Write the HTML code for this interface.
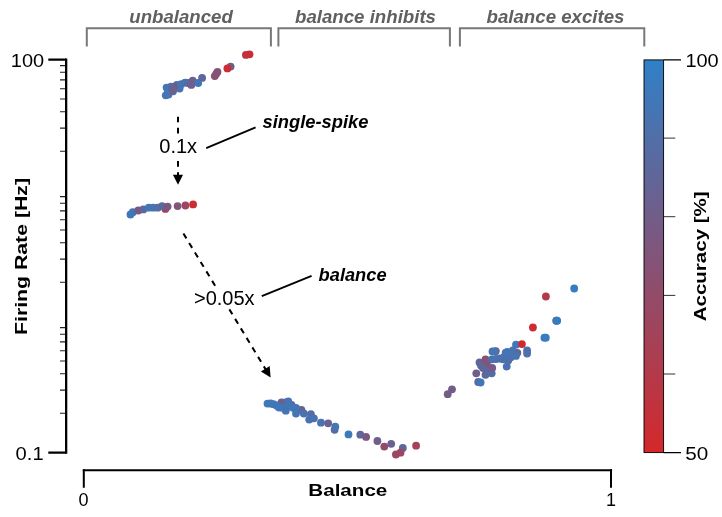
<!DOCTYPE html>
<html><head><meta charset="utf-8"><style>
html,body{margin:0;padding:0;background:#fff;}
body{width:722px;height:517px;overflow:hidden;}
svg{display:block;will-change:transform;}
text{font-family:"Liberation Sans",sans-serif;}
</style></head><body>
<svg width="722" height="517" viewBox="0 0 722 517">
<defs><linearGradient id="cb" x1="0" y1="0" x2="0" y2="1">
<stop offset="0" stop-color="#3080c8"/><stop offset="1" stop-color="#d4282a"/></linearGradient></defs>

<g fill="none" stroke="#787878" stroke-width="2" stroke-linejoin="miter">
<path d="M86.8 46.6V28.3H270.9V46.6"/>
<path d="M278.4 46.6V28.3H449.9V46.6"/>
<path d="M459.9 46.6V28.3H644.3V46.6"/>
</g>
<g fill="#606060" font-weight="bold" font-style="italic" font-size="18">
<text x="129.3" y="22.9" textLength="103.5" lengthAdjust="spacingAndGlyphs">unbalanced</text>
<text x="295" y="22.9" textLength="141" lengthAdjust="spacingAndGlyphs">balance inhibits</text>
<text x="486.5" y="22.9" textLength="138" lengthAdjust="spacingAndGlyphs">balance excites</text>
</g>
<g stroke="#000" fill="none">
<path d="M66.15 58.5V453.7" stroke-width="2.3"/>
<path d="M48.3 59.7H66M48.3 452.6H66" stroke-width="2.2"/>
<path d="M60 413.2H65M60 390.1H65M60 373.7H65M60 361.0H65M60 350.7H65M60 341.9H65M60 334.3H65M60 327.6H65M60 282.2H65M60 259.1H65M60 242.7H65M60 230.0H65M60 219.7H65M60 210.9H65M60 203.3H65M60 196.6H65M60 151.2H65M60 128.1H65M60 111.7H65M60 99.0H65M60 88.7H65M60 79.9H65M60 72.3H65M60 65.6H65" stroke-width="1.1" stroke="#222"/>
<path d="M82.8 470.2H612.1" stroke-width="2"/>
<path d="M83.8 469.2V487.7M611 469.2V487.7" stroke-width="2"/>
</g>
<g fill="#000" font-size="18">
<text x="10.8" y="66.6" textLength="33.3" lengthAdjust="spacingAndGlyphs">100</text>
<text x="15.6" y="459.5" textLength="28" lengthAdjust="spacingAndGlyphs">0.1</text>
<text x="78.5" y="505.6">0</text>
<text x="606" y="505.6">1</text>
<text x="685.4" y="66.5" textLength="33.3" lengthAdjust="spacingAndGlyphs">100</text>
<text x="685.3" y="459.5" textLength="23" lengthAdjust="spacingAndGlyphs">50</text>
</g>
<g fill="#000" font-size="17" font-weight="bold">
<text x="308.3" y="495.6" textLength="79" lengthAdjust="spacingAndGlyphs">Balance</text>
<text transform="translate(27.2,335) rotate(-90)" x="0" y="0" textLength="157" lengthAdjust="spacingAndGlyphs">Firing Rate [Hz]</text>
<text transform="translate(706.2,321.3) rotate(-90)" x="0" y="0" textLength="130" lengthAdjust="spacingAndGlyphs">Accuracy [%]</text>
</g>
<rect x="644" y="59.9" width="19.6" height="392.7" fill="url(#cb)" stroke="#000" stroke-width="0.9"/>
<path d="M663.8 59.9H681M663.8 452.6H681" stroke="#000" stroke-width="1.1"/>
<path d="M663.8 138.1H675.3M663.8 216.7H675.3M663.8 295.4H675.3M663.8 374.0H675.3" stroke="#333" stroke-width="1"/>
<g>
<circle cx="165.8" cy="95.3" r="3.9" fill="#4475b5"/>
<circle cx="168.5" cy="94.6" r="3.9" fill="#4475b5"/>
<circle cx="166.6" cy="87.6" r="3.9" fill="#4077b8"/>
<circle cx="168.0" cy="91.5" r="3.9" fill="#4475b5"/>
<circle cx="176.8" cy="84.8" r="3.9" fill="#4973b0"/>
<circle cx="179.6" cy="88.6" r="3.9" fill="#4475b5"/>
<circle cx="173.6" cy="86.9" r="3.9" fill="#8a5071"/>
<circle cx="171.0" cy="86.7" r="3.9" fill="#4973b0"/>
<circle cx="172.1" cy="88.5" r="3.9" fill="#686292"/>
<circle cx="173.0" cy="91.3" r="3.9" fill="#686292"/>
<circle cx="181.2" cy="84.2" r="3.9" fill="#4475b5"/>
<circle cx="185.1" cy="82.6" r="3.9" fill="#4973b0"/>
<circle cx="188.0" cy="83.0" r="3.9" fill="#516ea8"/>
<circle cx="192.7" cy="80.6" r="3.9" fill="#6e5f8c"/>
<circle cx="191.3" cy="84.9" r="3.9" fill="#6e5f8c"/>
<circle cx="198.2" cy="83.0" r="3.9" fill="#4077b8"/>
<circle cx="202.1" cy="77.9" r="3.9" fill="#5e679c"/>
<circle cx="214.8" cy="76.1" r="3.9" fill="#8a5071"/>
<circle cx="216.2" cy="73.8" r="3.9" fill="#8a5071"/>
<circle cx="217.5" cy="72.0" r="3.9" fill="#825479"/>
<circle cx="230.6" cy="66.6" r="3.9" fill="#725d89"/>
<circle cx="227.4" cy="68.4" r="3.9" fill="#cc2c32"/>
<circle cx="245.9" cy="54.9" r="3.9" fill="#c0333d"/>
<circle cx="249.5" cy="54.3" r="3.9" fill="#c72f37"/>
<circle cx="130.5" cy="214.5" r="3.9" fill="#3d79bb"/>
<circle cx="132.8" cy="212.2" r="3.9" fill="#4077b8"/>
<circle cx="138.3" cy="210.5" r="3.9" fill="#7a5881"/>
<circle cx="143.3" cy="209.4" r="3.9" fill="#5e679c"/>
<circle cx="148.8" cy="207.7" r="3.9" fill="#4475b5"/>
<circle cx="153.2" cy="207.7" r="3.9" fill="#4475b5"/>
<circle cx="157.7" cy="207.7" r="3.9" fill="#546da5"/>
<circle cx="165.4" cy="208.9" r="3.9" fill="#a34259"/>
<circle cx="162.1" cy="206.1" r="3.9" fill="#596aa0"/>
<circle cx="167.6" cy="206.6" r="3.9" fill="#7a5881"/>
<circle cx="177.6" cy="206.1" r="3.9" fill="#825479"/>
<circle cx="185.4" cy="205.5" r="3.9" fill="#9b4761"/>
<circle cx="193.1" cy="204.4" r="3.9" fill="#cc2c32"/>
<circle cx="281.5" cy="402.3" r="3.9" fill="#6e5f8c"/>
<circle cx="285.5" cy="402.3" r="3.9" fill="#6e5f8c"/>
<circle cx="291.5" cy="404.8" r="3.9" fill="#6e5f8c"/>
<circle cx="301.4" cy="409.8" r="3.9" fill="#6e5f8c"/>
<circle cx="267.5" cy="403.6" r="3.9" fill="#4077b8"/>
<circle cx="270.5" cy="403.5" r="3.9" fill="#4077b8"/>
<circle cx="273.5" cy="404.2" r="3.9" fill="#4077b8"/>
<circle cx="276.5" cy="405.5" r="3.9" fill="#4077b8"/>
<circle cx="279.0" cy="407.5" r="3.9" fill="#4077b8"/>
<circle cx="282.5" cy="407.8" r="3.9" fill="#4077b8"/>
<circle cx="288.3" cy="401.3" r="3.9" fill="#4475b5"/>
<circle cx="285.8" cy="410.7" r="3.9" fill="#4475b5"/>
<circle cx="289.5" cy="406.5" r="3.9" fill="#4077b8"/>
<circle cx="293.5" cy="408.0" r="3.9" fill="#4077b8"/>
<circle cx="296.0" cy="408.0" r="3.9" fill="#4077b8"/>
<circle cx="296.0" cy="413.5" r="3.9" fill="#4475b5"/>
<circle cx="303.8" cy="413.5" r="3.9" fill="#4973b0"/>
<circle cx="310.9" cy="414.2" r="3.9" fill="#546da5"/>
<circle cx="309.2" cy="419.6" r="3.9" fill="#4973b0"/>
<circle cx="313.9" cy="418.3" r="3.9" fill="#4973b0"/>
<circle cx="321.0" cy="422.7" r="3.9" fill="#4973b0"/>
<circle cx="328.2" cy="423.3" r="3.9" fill="#696191"/>
<circle cx="334.6" cy="429.8" r="3.9" fill="#596aa0"/>
<circle cx="335.3" cy="426.7" r="3.9" fill="#4475b5"/>
<circle cx="348.5" cy="434.4" r="3.9" fill="#3d79bb"/>
<circle cx="360.3" cy="434.7" r="3.9" fill="#5e679c"/>
<circle cx="366.1" cy="436.9" r="3.9" fill="#7a5881"/>
<circle cx="377.4" cy="441.0" r="3.9" fill="#6e5f8c"/>
<circle cx="384.3" cy="446.6" r="3.9" fill="#924b69"/>
<circle cx="391.2" cy="443.8" r="3.9" fill="#696191"/>
<circle cx="402.8" cy="448.0" r="3.9" fill="#5e679c"/>
<circle cx="400.5" cy="452.7" r="3.9" fill="#9b4761"/>
<circle cx="395.9" cy="454.5" r="3.9" fill="#9b4761"/>
<circle cx="416.1" cy="445.7" r="3.9" fill="#a34259"/>
<circle cx="447.7" cy="394.2" r="3.9" fill="#725d89"/>
<circle cx="452.0" cy="389.3" r="3.9" fill="#725d89"/>
<circle cx="478.2" cy="382.0" r="3.9" fill="#5e679c"/>
<circle cx="480.6" cy="382.5" r="3.9" fill="#4077b8"/>
<circle cx="476.3" cy="373.3" r="3.9" fill="#6e5f8c"/>
<circle cx="485.5" cy="374.8" r="3.9" fill="#5e679c"/>
<circle cx="491.7" cy="373.3" r="3.9" fill="#516ea8"/>
<circle cx="486.4" cy="369.0" r="3.9" fill="#5e679c"/>
<circle cx="492.2" cy="368.0" r="3.9" fill="#725d89"/>
<circle cx="479.5" cy="362.5" r="3.9" fill="#5e679c"/>
<circle cx="481.0" cy="365.5" r="3.9" fill="#5e679c"/>
<circle cx="485.5" cy="359.5" r="3.9" fill="#8a5071"/>
<circle cx="487.0" cy="363.0" r="3.9" fill="#825479"/>
<circle cx="483.0" cy="368.0" r="3.9" fill="#616699"/>
<circle cx="495.8" cy="351.1" r="3.9" fill="#a34259"/>
<circle cx="492.5" cy="351.5" r="3.9" fill="#4475b5"/>
<circle cx="495.0" cy="351.3" r="3.9" fill="#4475b5"/>
<circle cx="492.0" cy="359.3" r="3.9" fill="#4973b0"/>
<circle cx="496.0" cy="359.0" r="3.9" fill="#4973b0"/>
<circle cx="499.5" cy="358.5" r="3.9" fill="#4973b0"/>
<circle cx="502.9" cy="359.3" r="3.9" fill="#4e70ac"/>
<circle cx="507.4" cy="352.0" r="3.9" fill="#4475b5"/>
<circle cx="512.8" cy="350.5" r="3.9" fill="#4475b5"/>
<circle cx="517.4" cy="352.8" r="3.9" fill="#5e679c"/>
<circle cx="510.5" cy="357.4" r="3.9" fill="#4475b5"/>
<circle cx="515.9" cy="355.9" r="3.9" fill="#4973b0"/>
<circle cx="508.2" cy="360.5" r="3.9" fill="#516ea8"/>
<circle cx="505.7" cy="352.6" r="3.9" fill="#4475b5"/>
<circle cx="504.0" cy="357.0" r="3.9" fill="#4973b0"/>
<circle cx="506.7" cy="366.6" r="3.9" fill="#4973b0"/>
<circle cx="516.0" cy="344.7" r="3.9" fill="#3d79bb"/>
<circle cx="521.9" cy="344.1" r="3.9" fill="#cf2b2f"/>
<circle cx="527.1" cy="350.5" r="3.9" fill="#4e70ac"/>
<circle cx="527.1" cy="353.6" r="3.9" fill="#4e70ac"/>
<circle cx="544.4" cy="337.7" r="3.9" fill="#387cc0"/>
<circle cx="545.8" cy="337.7" r="3.9" fill="#387cc0"/>
<circle cx="556.4" cy="320.6" r="3.9" fill="#c4313a"/>
<circle cx="556.3" cy="320.7" r="3.9" fill="#387cc0"/>
<circle cx="557.2" cy="320.7" r="3.9" fill="#387cc0"/>
<circle cx="532.9" cy="327.5" r="3.9" fill="#cc2c32"/>
<circle cx="545.9" cy="296.5" r="3.9" fill="#b33a4a"/>
<circle cx="574.2" cy="288.5" r="3.9" fill="#387cc0"/>
</g>
<g stroke="#000" stroke-width="2" fill="none">
<path d="M178 116.7V176" stroke-dasharray="5.6 5.5"/>
<path d="M183.4 233.4L267.6 372.6" stroke-dasharray="5.8 5.3"/>
<path d="M206.2 148.2L255.6 127.4" stroke-width="1.8"/>
<path d="M261.8 296.1L311.6 275.9" stroke-width="1.8"/>
</g>
<path d="M172.9 174.7H183L178 184.8Z" fill="#000"/>
<path d="M260.9 371.5L269.7 366.1L270.6 377.6Z" fill="#000"/>
<rect x="157" y="136" width="43" height="22" fill="#fff"/>
<rect x="193" y="289" width="63" height="18" fill="#fff"/>
<g fill="#000" font-size="20">
<text x="159.3" y="152.7">0.1x</text>
<text x="194" y="305">&gt;0.05x</text>
</g>
<g fill="#000" font-size="18" font-weight="bold" font-style="italic">
<text x="262.5" y="128.3" textLength="106" lengthAdjust="spacingAndGlyphs">single-spike</text>
<text x="318.6" y="280.6" textLength="68" lengthAdjust="spacingAndGlyphs">balance</text>
</g>
</svg></body></html>
